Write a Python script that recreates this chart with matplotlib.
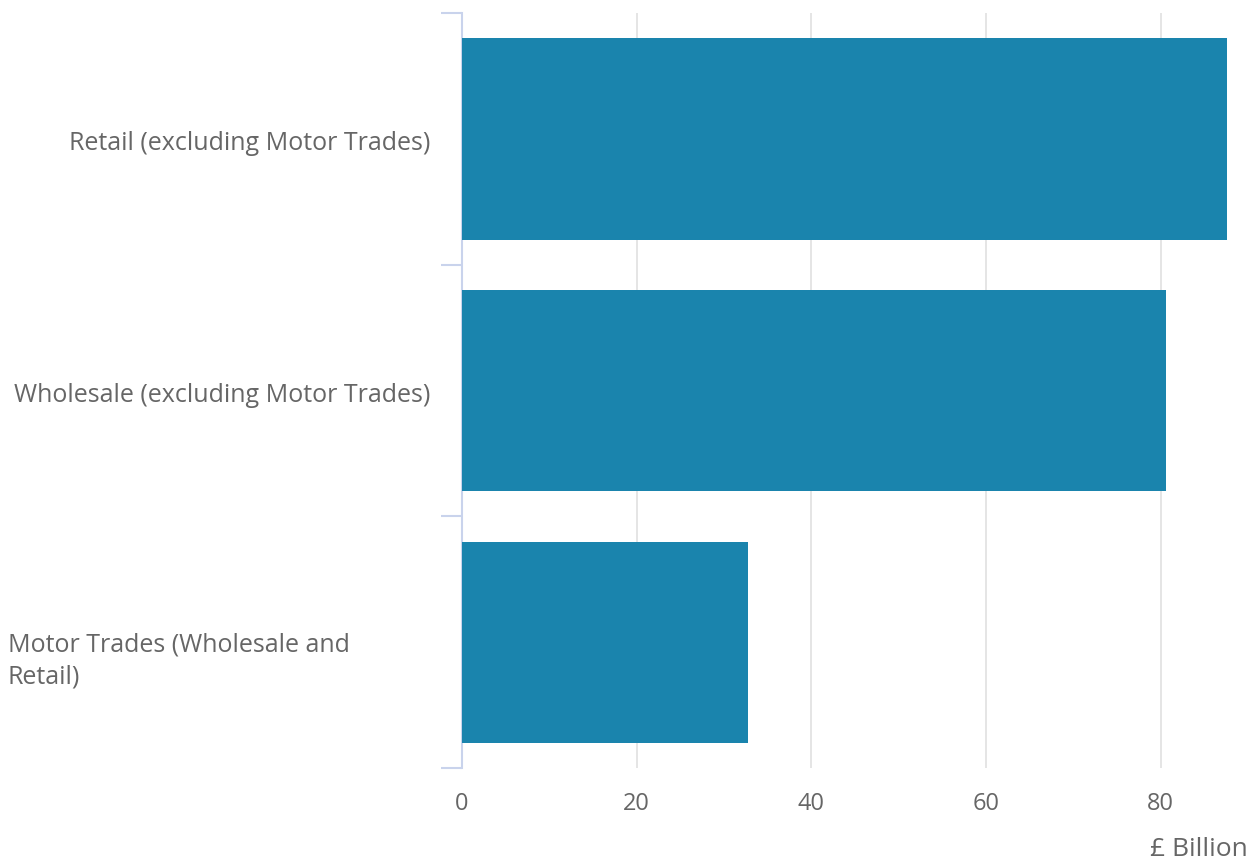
import matplotlib
matplotlib.use("Agg")
from matplotlib import pyplot as plt
from matplotlib import transforms

# GVA by industry, £ billion
categories = ["Retail (excluding Motor Trades)",
              "Wholesale (excluding Motor Trades)",
              "Motor Trades (Wholesale and\nRetail)"]
values = [87.6, 80.6, 32.8]
xticks = [0, 20, 40, 60, 80]

plt.rcParams['font.family'] = ['Open Sans', 'DejaVu Sans']

W, H = 1259, 861
fig = plt.figure(figsize=(W / 100, H / 100), dpi=100)
ax = fig.add_axes([462 / W, 1 - 768 / H, (1248 - 462) / W, (768 - 13) / H])

pos = list(range(len(categories)))
ax.barh(pos, values, height=0.8, color='#1a84ad', zorder=3)
ax.set_ylim(len(categories) - 0.5, -0.5)
ax.set_xlim(0, 90)

ax.set_xticks(xticks)
ax.set_xticklabels([str(t) for t in xticks], fontsize=17, color='#666666')
ax.tick_params(axis='x', length=0, pad=17)
for t in xticks[1:]:
    ax.axvline(t, color='#e3e3e3', linewidth=1.3, zorder=1)

# band boundary ticks on the y axis
ax.set_yticks([p - 0.5 for p in pos] + [len(pos) - 0.5])
ax.set_yticklabels([])
ax.tick_params(axis='y', length=15, width=1.5, color='#c9d3ec', direction='out')

for side in ['top', 'right', 'bottom']:
    ax.spines[side].set_visible(False)
ax.spines['left'].set_color('#c9d3ec')
ax.spines['left'].set_linewidth(1.5)

tr = transforms.blended_transform_factory(fig.transFigure, ax.transData)
for p, lab in zip(pos, categories):
    if '\n' in lab:
        ax.text(8 / W, p + 0.075, lab, transform=tr, ha='left', va='center',
                fontsize=18, color='#666666', linespacing=1.4)
    else:
        ax.text(430 / W, p + 0.02, lab, transform=tr, ha='right', va='center',
                fontsize=18, color='#666666')

fig.text(1248 / W, 1 - 850 / H, "£ Billion", ha='right', va='center',
         fontsize=19, color='#666666')

fig.savefig('out.png', dpi=100)
